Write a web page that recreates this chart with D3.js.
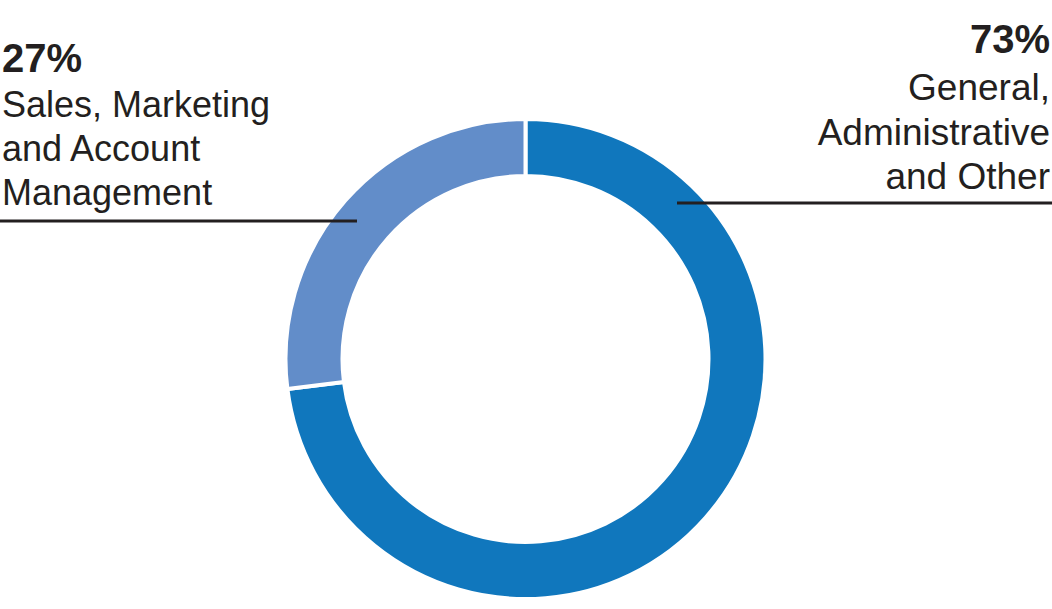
<!DOCTYPE html>
<html><head><meta charset="utf-8">
<script src="https://cdn.jsdelivr.net/npm/d3@7"></script>
<style>body{margin:0;background:#fff}svg{display:block}</style>
</head><body>
<svg id="c" width="1052" height="609"></svg>
<script>
const categories = ["General, Administrative and Other", "Sales, Marketing and Account Management"];
const values = [73, 27];
const pctLabels = ["73%", "27%"];
const labelLines = [["General,", "Administrative", "and Other"], ["Sales, Marketing", "and Account", "Management"]];
const colors = ["#1077bd", "#628dc9"];

const svg = d3.select("#c");
const cx = 525.5, cy = 359, rOuter = 240, rInner = 183;
const pie = d3.pie().sort(null).value(d => d)(values);
const arc = d3.arc().innerRadius(rInner).outerRadius(rOuter);
const g = svg.append("g").attr("transform", `translate(${cx},${cy})`);
g.selectAll("path").data(pie).enter().append("path")
  .attr("d", arc).attr("fill", (d,i) => colors[i])
  .attr("stroke", "#fff").attr("stroke-width", 4);

const ink = "#231f20";
const font = "Liberation Sans, Arial, sans-serif";
svg.append("line").attr("x1", 677).attr("x2", 1052).attr("y1", 203).attr("y2", 203).attr("stroke", ink).attr("stroke-width", 3);
svg.append("line").attr("x1", 0).attr("x2", 357).attr("y1", 221).attr("y2", 221).attr("stroke", ink).attr("stroke-width", 3);

const spec = [
  {x: 1050, anchor: "end", pctY: 53, lineY: [100, 145, 189], size: 37},
  {x: 2, anchor: "start", pctY: 72, lineY: [117, 161, 205], size: 36}
];
spec.forEach((s, i) => {
  svg.append("text").attr("x", s.x).attr("y", s.pctY).attr("text-anchor", s.anchor)
    .attr("font-family", font).attr("font-weight", "bold").attr("font-size", 40).attr("fill", ink).text(pctLabels[i]);
  labelLines[i].forEach((t, j) => {
    svg.append("text").attr("x", s.x).attr("y", s.lineY[j]).attr("text-anchor", s.anchor)
      .attr("font-family", font).attr("font-size", s.size).attr("fill", ink).text(t);
  });
});
</script>
</body></html>
